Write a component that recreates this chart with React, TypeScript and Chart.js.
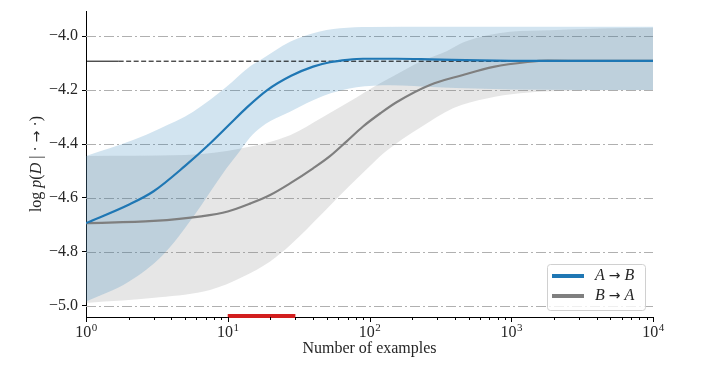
import React, { useEffect, useRef } from 'react';
import { Chart, registerables } from 'chart.js';
Chart.register(...registerables);

// ---- data ----
const blueX = [1, 2, 3, 5, 7.5, 10.4, 13.6, 19, 28, 40, 52.6, 70, 90, 155, 267, 600, 1500, 4000, 10000];
const blueY = [-4.693, -4.625, -4.575, -4.481, -4.398, -4.325, -4.265, -4.2, -4.147, -4.113, -4.097, -4.088, -4.084, -4.084, -4.086, -4.09, -4.092, -4.092, -4.092];

const grayX = [1, 3, 6.5, 10, 14.5, 19.9, 27.5, 40, 52.6, 69, 90, 120, 155, 267, 450, 750, 1300, 1800, 4000, 10000];
const grayY = [-4.693, -4.685, -4.668, -4.65, -4.62, -4.589, -4.546, -4.49, -4.445, -4.39, -4.335, -4.285, -4.245, -4.181, -4.145, -4.114, -4.096, -4.091, -4.092, -4.092];

const blueUpX = [1, 2.15, 3.3, 5.7, 9.8, 14.4, 17, 27.5, 40, 62, 100, 300, 10000];
const blueUpY = [-4.444, -4.385, -4.343, -4.28, -4.188, -4.112, -4.089, -4.021, -3.989, -3.971, -3.966, -3.965, -3.965];
const blueLoX = [1, 2, 3.5, 5.7, 9.8, 12, 14.4, 17, 20, 27.5, 47, 81, 140, 300, 1000, 10000];
const blueLoY = [-4.984, -4.91, -4.81, -4.67, -4.49, -4.43, -4.375, -4.34, -4.315, -4.28, -4.222, -4.19, -4.182, -4.19, -4.198, -4.2];

const grayUpX = [1, 5, 12.8, 27.5, 47, 81, 106, 150, 227, 350, 470, 980, 1876, 4228, 10000];
const grayUpY = [-4.444, -4.441, -4.415, -4.367, -4.3, -4.228, -4.19, -4.146, -4.095, -4.056, -4.021, -3.984, -3.978, -3.972, -3.969];
const grayLoX = [1, 3.3, 7.5, 12.9, 19.9, 27.5, 47, 62, 81, 106, 132, 227, 388, 671, 1153, 1876, 10000];
const grayLoY = [-4.989, -4.968, -4.941, -4.891, -4.835, -4.775, -4.655, -4.59, -4.53, -4.47, -4.425, -4.34, -4.267, -4.231, -4.212, -4.204, -4.2];

const refLevel = -4.093;
const refSolidX = [1, 1.7];
const refDashX = [1.7, 10000];
const redBarX = [10, 30];
const redBarY = -5.037;

const yTicks = [-5.0, -4.8, -4.6, -4.4, -4.2, -4.0];
const xMajor = [1, 10, 100, 1000, 10000];
const xExponents = ['0', '1', '2', '3', '4'];
const xMinorMult = [2, 3, 4, 5, 6, 7, 8, 9];
const yMin = -5.041;
const yMax = -3.907;
const xMin = 1;
const xMax = 10000;

const seriesLabels = ['A → B', 'B → A'];

const FONT = '"Liberation Serif", "DejaVu Serif", serif';
const ARROW_FONT = '"DejaVu Sans", sans-serif';
const TEXT = '#262626';
const BLUE = '#1f77b4';
const GRAY = '#7f7f7f';

const pts = (xs: number[], ys: number[]) => xs.map((x, i) => ({ x, y: ys[i] }));

type Run = { t: string; it?: boolean; f?: string; s?: number };
function setRunFont(ctx: CanvasRenderingContext2D, r: Run, size: number) {
  ctx.font = `${r.it ? 'italic ' : ''}${r.s ?? size}px ${r.f ?? FONT}`;
}
function runsWidth(ctx: CanvasRenderingContext2D, runs: Run[], size: number) {
  let w = 0;
  for (const r of runs) {
    setRunFont(ctx, r, size);
    w += ctx.measureText(r.t).width;
  }
  return w;
}
function drawRuns(ctx: CanvasRenderingContext2D, runs: Run[], x: number, y: number, size: number) {
  let cx = x;
  for (const r of runs) {
    setRunFont(ctx, r, size);
    ctx.fillText(r.t, cx, y);
    cx += ctx.measureText(r.t).width;
  }
}

const legendRuns: Run[][] = [
  [{ t: 'A', it: true }, { t: ' ' }, { t: '→', f: ARROW_FONT, s: 14 }, { t: ' ' }, { t: 'B', it: true }],
  [{ t: 'B', it: true }, { t: ' ' }, { t: '→', f: ARROW_FONT, s: 14 }, { t: ' ' }, { t: 'A', it: true }],
];
const yTitleRuns: Run[] = [
  { t: 'log ' }, { t: 'p', it: true }, { t: '(' }, { t: 'D', it: true }, { t: ' | · ' },
  { t: '→', f: ARROW_FONT, s: 14 }, { t: ' ·)' },
];

export default function App() {
  const ref = useRef<HTMLCanvasElement>(null);
  useEffect(() => {
    const canvas = ref.current!;

    const gridPlugin = {
      id: 'dashGrid',
      beforeDatasetsDraw(chart: any) {
        const { ctx, chartArea, scales } = chart;
        ctx.save();
        ctx.strokeStyle = '#b0b0b0';
        ctx.lineWidth = 1;
        ctx.setLineDash([10, 3, 2, 3]);
        for (const v of yTicks) {
          const py = Math.round(scales.y.getPixelForValue(v)) + 0.5;
          ctx.beginPath();
          ctx.moveTo(chartArea.left, py);
          ctx.lineTo(chartArea.right, py);
          ctx.stroke();
        }
        ctx.restore();
      },
    };

    const decorPlugin = {
      id: 'decor',
      afterDraw(chart: any) {
        const { ctx, chartArea, scales } = chart;
        const xs = scales.x;
        ctx.save();
        ctx.strokeStyle = '#000';
        ctx.lineWidth = 1;
        const bottom = chartArea.bottom;
        const drawTick = (v: number, len: number) => {
          const px = Math.round(xs.getPixelForValue(v)) + 0.5;
          ctx.beginPath();
          ctx.moveTo(px, bottom);
          ctx.lineTo(px, bottom + len);
          ctx.stroke();
        };
        for (let i = 0; i < xMajor.length; i++) {
          drawTick(xMajor[i], 5);
          if (i < xMajor.length - 1) for (const m of xMinorMult) drawTick(xMajor[i] * m, 3);
        }
        ctx.fillStyle = TEXT;
        ctx.textBaseline = 'middle';
        for (let i = 0; i < xMajor.length; i++) {
          const px = xs.getPixelForValue(xMajor[i]);
          ctx.font = `16px ${FONT}`;
          const wb = ctx.measureText('10').width;
          ctx.font = `11px ${FONT}`;
          const we = ctx.measureText(xExponents[i]).width;
          const start = px - (wb + we) / 2;
          ctx.font = `16px ${FONT}`;
          ctx.fillText('10', start, bottom + 16);
          ctx.font = `11px ${FONT}`;
          ctx.fillText(xExponents[i], start + wb + 0.5, bottom + 11);
        }
        ctx.font = `16px ${FONT}`;
        ctx.textAlign = 'center';
        ctx.fillText('Number of examples', (chartArea.left + chartArea.right) / 2, bottom + 32);
        ctx.textAlign = 'left';
        ctx.save();
        ctx.translate(chartArea.left - 49, (chartArea.top + chartArea.bottom) / 2);
        ctx.rotate(-Math.PI / 2);
        const tw = runsWidth(ctx, yTitleRuns, 16);
        drawRuns(ctx, yTitleRuns, -tw / 2, 0, 16);
        ctx.restore();
        // legend
        const lw = 98, lh = 46;
        const lx = chartArea.right - 8 - lw;
        const ly = chartArea.bottom - 7 - lh;
        ctx.beginPath();
        ctx.roundRect(lx + 0.5, ly + 0.5, lw, lh, 3);
        ctx.fillStyle = 'rgba(255,255,255,0.8)';
        ctx.fill();
        ctx.strokeStyle = '#d0d0d0';
        ctx.lineWidth = 1;
        ctx.stroke();
        const cols = [BLUE, GRAY];
        for (let i = 0; i < 2; i++) {
          const yy = ly + 12 + i * 20;
          ctx.strokeStyle = cols[i];
          ctx.lineWidth = 4;
          ctx.beginPath();
          ctx.moveTo(lx + 5, yy);
          ctx.lineTo(lx + 37, yy);
          ctx.stroke();
          ctx.fillStyle = TEXT;
          ctx.textBaseline = 'middle';
          drawRuns(ctx, legendRuns[i], lx + 48, yy, 16);
        }
        ctx.restore();
      },
    };

    const lineBase = { pointRadius: 0, pointHoverRadius: 0, fill: false, cubicInterpolationMode: 'monotone' as const };
    const bandBase = { pointRadius: 0, borderWidth: 0, borderColor: 'rgba(0,0,0,0)', cubicInterpolationMode: 'monotone' as const };

    const chart = new Chart(canvas, {
      type: 'line',
      data: {
        datasets: [
          { ...lineBase, label: seriesLabels[0], data: pts(blueX, blueY), borderColor: BLUE, borderWidth: 2.2, order: 0 },
          { ...lineBase, label: seriesLabels[1], data: pts(grayX, grayY), borderColor: GRAY, borderWidth: 2.2, order: 1 },
          { ...lineBase, label: 'ref', data: refDashX.map((x) => ({ x, y: refLevel })), borderColor: '#000', borderWidth: 1, borderDash: [5, 2.5], order: 2 },
          { ...lineBase, label: 'ref2', data: refSolidX.map((x) => ({ x, y: refLevel })), borderColor: '#000', borderWidth: 1, order: 2 },
          { ...lineBase, label: 'range', data: redBarX.map((x) => ({ x, y: redBarY })), borderColor: '#d21e1e', borderWidth: 4, clip: false as any, order: -1 },
          { ...bandBase, label: 'bu', data: pts(blueUpX, blueUpY), fill: '+1', backgroundColor: 'rgba(31,119,180,0.2)', order: 5 },
          { ...bandBase, label: 'bl', data: pts(blueLoX, blueLoY), fill: false, order: 5 },
          { ...bandBase, label: 'gu', data: pts(grayUpX, grayUpY), fill: '+1', backgroundColor: 'rgba(128,128,128,0.2)', order: 6 },
          { ...bandBase, label: 'gl', data: pts(grayLoX, grayLoY), fill: false, order: 6 },
        ] as any,
      },
      options: {
        animation: false,
        responsive: false,
        maintainAspectRatio: false,
        layout: { padding: { top: 11, right: 74, left: 0, bottom: 0 } },
        plugins: { legend: { display: false }, tooltip: { enabled: false } },
        scales: {
          x: {
            type: 'logarithmic',
            min: xMin,
            max: xMax,
            ticks: { display: false },
            grid: { display: false },
            border: { display: true, color: '#000', width: 1 },
            afterFit: (s: any) => { s.height = 52; s.paddingLeft = 0; s.paddingRight = 0; },
          },
          y: {
            type: 'linear',
            min: yMin,
            max: yMax,
            afterBuildTicks: (s: any) => { s.ticks = yTicks.map((v) => ({ value: v })); },
            afterFit: (s: any) => { s.width = 86; s.paddingTop = 0; s.paddingBottom = 0; },
            grid: { drawOnChartArea: false, drawTicks: true, tickLength: 4, tickColor: '#000', tickWidth: 1 },
            border: { display: true, color: '#000', width: 1 },
            ticks: {
              padding: 4,
              color: TEXT,
              font: { family: FONT, size: 16 },
              callback: (v: any) => (Number(v) < 0 ? '−' : '') + Math.abs(Number(v)).toFixed(1),
            },
          },
        },
      } as any,
      plugins: [gridPlugin, decorPlugin],
    });
    return () => chart.destroy();
  }, []);

  return (
    <div style={{ position: 'fixed', left: 0, top: 0, width: 727, height: 369, background: '#fff' }}>
      <canvas ref={ref} width={727} height={369} style={{ display: 'block' }} />
    </div>
  );
}
